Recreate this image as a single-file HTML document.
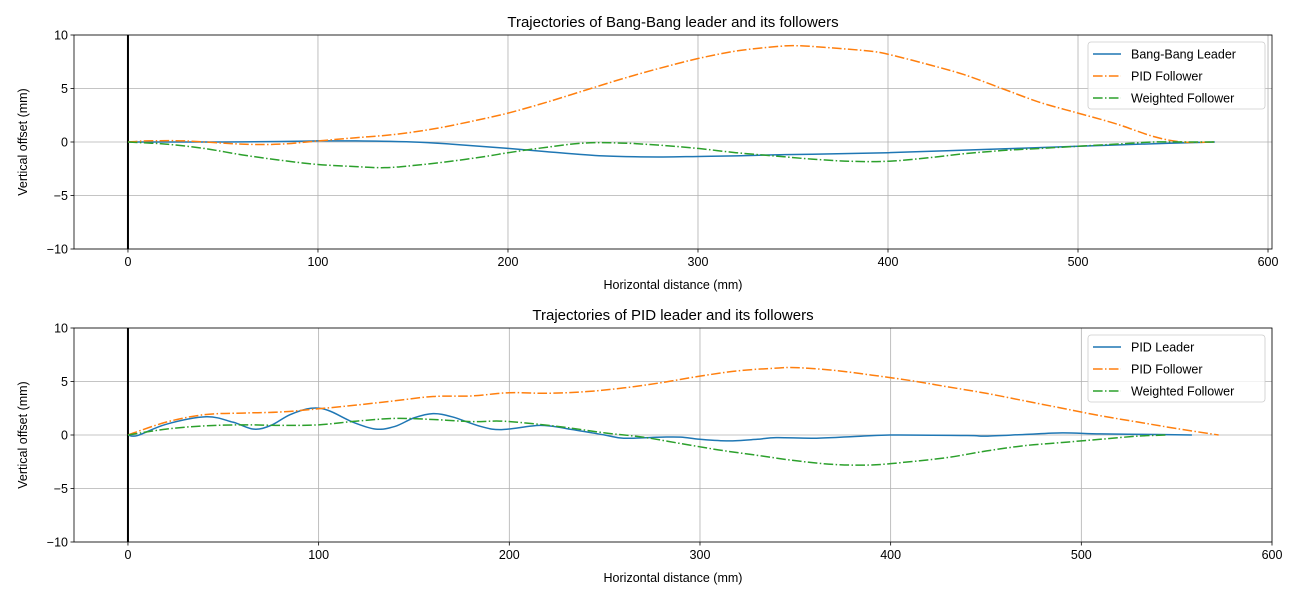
<!DOCTYPE html>
<html><head><meta charset="utf-8"><style>
body{margin:0;background:#fff;}
svg text{font-family:"Liberation Sans","DejaVu Sans",sans-serif;fill:#000;}
</style></head><body>
<svg id="chart" width="1300" height="600" xmlns="http://www.w3.org/2000/svg"></svg>
<script>
// ---- data ----
const topLeaderX=[0,20,50,80,100,120,150,170,200,220,250,280,300,320,340,360,400,450,500,550,572];
const topLeaderY=[0,0,0,0.05,0.1,0.1,0,-0.2,-0.6,-0.9,-1.3,-1.4,-1.35,-1.3,-1.2,-1.15,-1.0,-0.7,-0.4,-0.1,0];
const topPidX=[0,10,30,60,80,100,120,140,160,180,200,220,240,260,280,300,320,340,352,370,390,400,420,440,460,480,500,520,540,555,572];
const topPidY=[0,0.1,0.1,-0.2,-0.2,0.1,0.4,0.7,1.2,1.9,2.7,3.7,4.8,5.9,6.9,7.8,8.5,8.9,9.0,8.8,8.5,8.2,7.3,6.3,5.0,3.7,2.7,1.7,0.5,0,0];
const topWX=[0,20,40,60,80,100,120,135,150,170,190,200,220,240,260,280,300,320,340,360,380,400,420,440,460,480,500,520,540,560,572];
const topWY=[0,-0.2,-0.6,-1.2,-1.7,-2.1,-2.3,-2.4,-2.2,-1.8,-1.3,-1.0,-0.5,-0.1,-0.1,-0.3,-0.6,-1.0,-1.3,-1.6,-1.8,-1.8,-1.5,-1.1,-0.8,-0.6,-0.4,-0.2,0,0,0];
const botLeaderX=[0,5,20,41,55,66,75,85,96,105,118,130,140,150,160,170,185,196,216,230,250,260,280,290,300,315,330,340,360,380,400,440,450,470,490,510,540,558];
const botLeaderY=[0,-0.05,1.0,1.7,1.2,0.55,0.9,1.9,2.5,2.3,1.2,0.55,0.8,1.6,2.0,1.7,0.8,0.5,0.9,0.6,0,-0.3,-0.2,-0.2,-0.4,-0.55,-0.4,-0.25,-0.3,-0.15,0,-0.05,-0.1,0.05,0.2,0.1,0.05,0];
const botPidX=[0,20,40,60,80,100,120,140,160,180,200,220,240,260,280,300,320,340,350,370,390,410,430,450,470,490,510,530,550,572];
const botPidY=[0,1.2,1.9,2.05,2.15,2.45,2.8,3.2,3.6,3.65,3.95,3.9,4.05,4.4,4.9,5.5,6.0,6.25,6.3,6.05,5.6,5.1,4.5,3.9,3.2,2.5,1.8,1.2,0.6,0];
const botWX=[0,20,40,60,80,100,120,140,160,180,195,210,230,250,270,290,310,330,350,370,390,410,430,450,470,490,510,530,545];
const botWY=[0,0.55,0.85,0.95,0.9,0.95,1.3,1.55,1.45,1.25,1.3,1.1,0.7,0.2,-0.2,-0.8,-1.4,-1.9,-2.4,-2.75,-2.8,-2.5,-2.1,-1.5,-1.0,-0.7,-0.4,-0.1,0];
const xTicks=[0,100,200,300,400,500,600];
const yTicks=[10,5,0,-5,-10];

const svg=document.getElementById('chart');
const NS='http://www.w3.org/2000/svg';
function mk(tag,attrs,parent,text){const e=document.createElementNS(NS,tag);for(const k in attrs)e.setAttribute(k,attrs[k]);if(text!==undefined)e.textContent=text;(parent||svg).appendChild(e);return e;}
function smooth(pts){let d='M'+pts[0][0].toFixed(2)+','+pts[0][1].toFixed(2);for(let i=0;i<pts.length-1;i++){const p0=pts[Math.max(0,i-1)],p1=pts[i],p2=pts[i+1],p3=pts[Math.min(pts.length-1,i+2)];const c1=[p1[0]+(p2[0]-p0[0])/6,p1[1]+(p2[1]-p0[1])/6],c2=[p2[0]-(p3[0]-p1[0])/6,p2[1]-(p3[1]-p1[1])/6];d+='C'+c1.join(',')+' '+c2.join(',')+' '+p2.join(',');}return d;}

function panel(o){
  const g=mk('g',{});
  
  
  const sx=v=>o.L+(v-o.xmin)/(o.xmax-o.xmin)*(o.R-o.L);
  const sy=v=>o.B-(v+10)/20*(o.B-o.T);
  xTicks.forEach(t=>{const x=sx(t);
    mk('line',{x1:x,x2:x,y1:o.T,y2:o.B,stroke:'#b0b0b0','stroke-width':0.8},g);
    mk('line',{x1:x,x2:x,y1:o.B,y2:o.B+3.5,stroke:'#000','stroke-width':0.8},g);
    const tl=mk('text',{x:x,y:o.B+17,'text-anchor':'middle','font-size':12.5},g,String(t));
    
    });
  yTicks.forEach(t=>{const y=sy(t);
    mk('line',{x1:o.L,x2:o.R,y1:y,y2:y,stroke:'#b0b0b0','stroke-width':0.8},g);
    mk('line',{x1:o.L-3.5,x2:o.L,y1:y,y2:y,stroke:'#000','stroke-width':0.8},g);
    const tl=mk('text',{x:o.L-6,y:y+4.5,'text-anchor':'end','font-size':12.5},g,(t<0?'\u2212':'')+Math.abs(t));
    
    });
  const z=mk('line',{x1:sx(0),x2:sx(0),y1:o.T,y2:o.B,stroke:'#000','stroke-width':2},g);
  
  
  const cols=['#1f77b4','#ff7f0e','#2ca02c'];
  o.series.forEach((s,i)=>{
    const pts=s.x.map((v,j)=>[sx(v),sy(s.y[j])]);
    const p=mk('path',{d:smooth(pts),fill:'none',stroke:cols[i],'stroke-width':1.5,'stroke-dasharray':i?'9.6,2.4,1.5,2.4':'none'},g);
    
    });
  mk('rect',{x:o.L,y:o.T,width:o.R-o.L,height:o.B-o.T,fill:'none',stroke:'#000','stroke-width':0.8},g);
  const tt=mk('text',{x:(o.L+o.R)/2,y:o.T-8,'text-anchor':'middle','font-size':15},g,o.title);
  
  
  const xl=mk('text',{x:(o.L+o.R)/2,y:o.B+40,'text-anchor':'middle','font-size':12.5},g,'Horizontal distance (mm)');
  
  
  const cy=(o.T+o.B)/2;
  const yl=mk('text',{x:27,y:cy,'text-anchor':'middle','font-size':12.5,transform:'rotate(-90 27 '+cy+')'},g,'Vertical offset (mm)');
  
  
  const lg=mk('g',{},g);
  
  
  mk('rect',{x:1088,y:o.T+7,width:177,height:67,rx:3,fill:'#fff','fill-opacity':0.8,stroke:'#ccc','stroke-width':0.8},lg);
  o.series.forEach((s,i)=>{const y=o.T+19+i*22;
    mk('line',{x1:1093,x2:1121,y1:y,y2:y,stroke:cols[i],'stroke-width':1.5,'stroke-dasharray':i?'9.6,2.4,1.5,2.4':'none'},lg);
    const t=mk('text',{x:1131,y:y+4.5,'font-size':12.5},lg,s.label);
    
    });
}
panel({name:'bang-bang-panel',L:74,R:1272,T:35,B:249,xmin:-28.4,xmax:602.1,title:'Trajectories of Bang-Bang leader and its followers',
  series:[{x:topLeaderX,y:topLeaderY,n:'bang-bang-leader-line',label:'Bang-Bang Leader'},{x:topPidX,y:topPidY,n:'pid-follower-line',label:'PID Follower'},{x:topWX,y:topWY,n:'weighted-follower-line',label:'Weighted Follower'}]});
panel({name:'pid-panel',L:74,R:1272,T:328,B:542,xmin:-28.3,xmax:600,title:'Trajectories of PID leader and its followers',
  series:[{x:botLeaderX,y:botLeaderY,n:'pid-leader-line',label:'PID Leader'},{x:botPidX,y:botPidY,n:'pid-follower-line',label:'PID Follower'},{x:botWX,y:botWY,n:'weighted-follower-line',label:'Weighted Follower'}]});
</script>
</body></html>
